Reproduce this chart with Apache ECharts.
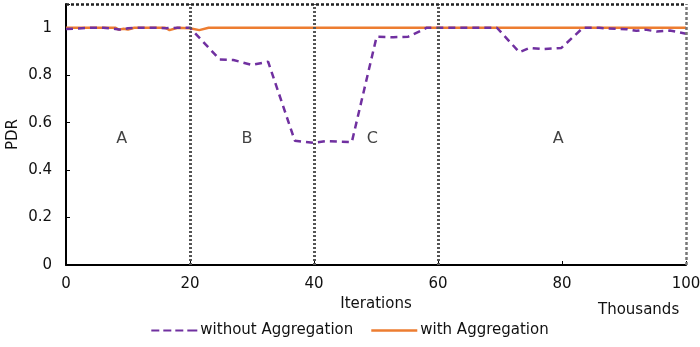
<!DOCTYPE html>
<html><head><meta charset="utf-8">
<script src="https://cdn.jsdelivr.net/npm/echarts@6/dist/echarts.min.js"></script>
<style>html,body{margin:0;padding:0;background:#fff}#c{width:700px;height:347px}</style>
</head><body><div id="c"></div>
<script>
var withoutAgg = [[0,0.995],[2,0.997],[4,1.0],[6,1.0],[8,0.995],[9,0.991],[10,0.998],[12,1.0],[14,1.0],[16,0.998],[18,1.0],[20,1.0],[24.8,0.866],[27,0.864],[30,0.843],[32.6,0.857],[36.9,0.524],[39.9,0.515],[42,0.522],[46.1,0.518],[50.1,0.962],[52.8,0.96],[55.2,0.962],[58.2,1.0],[60,1.0],[64,1.0],[69.5,1.0],[73.1,0.897],[74.8,0.915],[77,0.91],[79.9,0.915],[83.4,1.0],[86,1.0],[87.2,0.997],[90.4,0.994],[92,0.987],[93.4,0.992],[95.3,0.984],[97.4,0.988],[100,0.975]];
var withAgg = [[0,1.0],[8,1.0],[8.5,0.992],[9.3,0.996],[10,0.992],[11,1.0],[16,1.0],[16.7,0.99],[18,1.0],[20,0.998],[21.5,0.99],[23,1.0],[60,1.0],[100,1.0]];
var phaseLabels = ['A','B','C','A'];
var phaseX = [9,29.2,49.4,79.4];
var phaseY = 0.53;
var dividers = [20,40,60];
var font = 'DejaVu Sans';
var txt = '#111';
var chart = echarts.init(document.getElementById('c'));
chart.setOption({
  animation:false,
  grid:{left:66,right:14,top:4,bottom:82,containLabel:false,outerBoundsMode:'none'},
  legend:{bottom:4,left:'center',itemWidth:46,itemHeight:14,itemGap:18,
    textStyle:{fontFamily:font,fontSize:15,color:txt,padding:[0,0,0,-2]},
    data:[{name:'without Aggregation',icon:'path://M0,6h8v2h-8zM12,6h8v2h-8zM24,6h8v2h-8zM36,6h10v2h-10z'},
          {name:'with Aggregation',icon:'path://M0,6h46v2.5h-46z'}]},
  xAxis:{type:'value',min:0,max:100,interval:20,
    name:'Iterations',nameLocation:'middle',nameGap:32,
    nameTextStyle:{fontFamily:font,fontSize:15,color:txt},
    axisLine:{show:true,lineStyle:{color:'#000',width:2}},
    axisTick:{show:true,inside:true,length:4,lineStyle:{color:'#000'}},
    axisLabel:{fontFamily:font,fontSize:15,color:txt,margin:12},
    splitLine:{show:false}},
  yAxis:{type:'value',min:0,max:1.1,interval:0.2,
    name:'PDR',nameLocation:'middle',nameGap:45,nameRotate:90,nameMoveOverlap:false,
    nameTextStyle:{fontFamily:font,fontSize:15,color:txt},
    axisLine:{show:true,lineStyle:{color:'#000',width:2}},
    axisTick:{show:true,inside:true,length:4,lineStyle:{color:'#000'}},
    axisLabel:{fontFamily:font,fontSize:15,color:txt,margin:14,
      formatter:function(v){return v>1.05?'':String(Math.round(v*10)/10);}},
    splitLine:{show:false}},
  graphic:[{type:'text',left:598,top:303,style:{text:'Thousands',fontFamily:font,fontSize:15,fill:txt}}],
  series:[
    {name:'frame',type:'line',data:[],silent:true,
      markLine:{symbol:'none',silent:true,label:{show:false},
        lineStyle:{color:'#555',type:[2,2],width:3},
        data:dividers.map(function(d){return {xAxis:d,lineStyle:{color:'#555',type:[2,2],width:3}};}).concat([{xAxis:100,lineStyle:{color:'#777',type:[3,2],width:2.5}},{yAxis:1.1,lineStyle:{color:'#222',type:[3,2],width:2.5}}])}},
    {name:'labels',type:'scatter',symbolSize:0,silent:true,
      data:phaseLabels.map(function(l,i){return {value:[phaseX[i],phaseY],name:l};}),
      label:{show:true,position:'inside',formatter:'{b}',fontFamily:font,fontSize:16,color:txt}},
    {name:'with Aggregation',type:'line',data:withAgg,showSymbol:false,symbol:'none',
      lineStyle:{color:'#ED7D31',width:2.5},itemStyle:{color:'#ED7D31'},z:3},
    {name:'without Aggregation',type:'line',data:withoutAgg,showSymbol:false,symbol:'none',
      lineStyle:{color:'#7030A0',width:2.5,type:[7,5]},itemStyle:{color:'#7030A0'},z:4}
  ]
});
</script></body></html>
